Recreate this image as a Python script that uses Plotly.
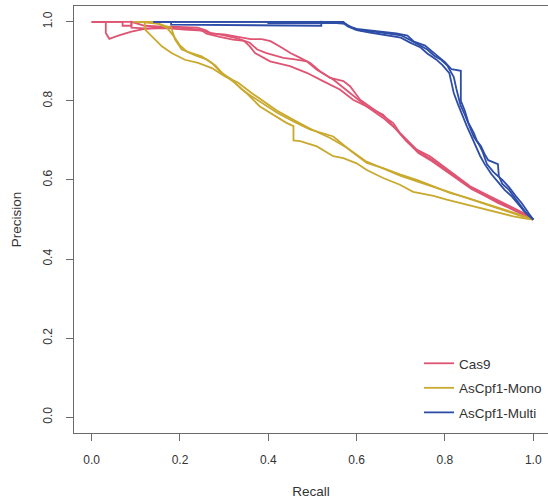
import plotly.graph_objects as go

# ---------------- data ----------------
series_names = ["Cas9", "AsCpf1-Mono", "AsCpf1-Multi"]
series_colors = ["#DF5473", "#C9A92E", "#2E4DA7"]

# Cas9 (three replicate PR curves)
cas9_1_recall = [0, 0.032, 0.032, 0.04, 0.06, 0.09, 0.12, 0.15, 0.18, 0.21, 0.24, 0.26, 0.27, 0.30, 0.33, 0.36,
                 0.385, 0.405, 0.43, 0.45, 0.47, 0.495, 0.517, 0.54, 0.57, 0.585, 0.608, 0.63, 0.66, 0.683, 0.698,
                 0.713, 0.736, 0.766, 0.796, 0.827, 0.857, 0.887, 0.917, 0.947, 0.977, 1.0]
cas9_1_precision = [1, 1, 0.972, 0.957, 0.965, 0.975, 0.982, 0.986, 0.988, 0.987, 0.985, 0.978, 0.97, 0.968, 0.962, 0.956,
                    0.956, 0.951, 0.935, 0.921, 0.91, 0.896, 0.875, 0.858, 0.85, 0.837, 0.803, 0.786, 0.761, 0.744, 0.719,
                    0.702, 0.677, 0.66, 0.635, 0.609, 0.584, 0.567, 0.55, 0.534, 0.517, 0.50]
cas9_2_recall = [0, 0.07, 0.07, 0.09, 0.09, 0.12, 0.16, 0.2, 0.24, 0.27, 0.30, 0.33, 0.358, 0.375, 0.396, 0.434, 0.46,
                 0.487, 0.51, 0.547, 0.585, 0.623, 0.66, 0.683, 0.713, 0.74, 0.77, 0.80, 0.83, 0.86, 0.89, 0.92, 0.95,
                 0.975, 1.0]
cas9_2_precision = [1, 1, 0.99, 0.99, 1.0, 0.99, 0.988, 0.985, 0.98, 0.972, 0.966, 0.958, 0.947, 0.93, 0.921, 0.909, 0.905,
                    0.90, 0.879, 0.854, 0.82, 0.786, 0.765, 0.736, 0.698, 0.672, 0.652, 0.628, 0.603, 0.58, 0.562, 0.545,
                    0.53, 0.515, 0.50]
cas9_3_recall = [0, 0.09, 0.09, 0.13, 0.17, 0.21, 0.25, 0.26, 0.29, 0.32, 0.345, 0.358, 0.37, 0.404, 0.449, 0.487, 0.524,
                 0.562, 0.592, 0.623, 0.66, 0.69, 0.713, 0.74, 0.77, 0.80, 0.83, 0.86, 0.89, 0.92, 0.95, 0.975, 1.0]
cas9_3_precision = [1, 1, 0.985, 0.983, 0.984, 0.98, 0.978, 0.97, 0.962, 0.955, 0.952, 0.938, 0.921, 0.90, 0.888, 0.871,
                    0.85, 0.829, 0.803, 0.786, 0.757, 0.728, 0.698, 0.668, 0.648, 0.625, 0.6, 0.577, 0.56, 0.542, 0.527,
                    0.513, 0.50]

# AsCpf1-Mono
mono_1_recall = [0.095, 0.12, 0.121, 0.136, 0.159, 0.181, 0.211, 0.241, 0.272, 0.302, 0.332, 0.362, 0.385, 0.42, 0.457,
                 0.494, 0.54, 0.577, 0.62, 0.66, 0.70, 0.74, 0.78, 0.82, 0.86, 0.90, 0.94, 0.97, 1.0]
mono_1_precision = [1, 1, 0.98, 0.963, 0.938, 0.921, 0.904, 0.896, 0.883, 0.862, 0.846, 0.82, 0.803, 0.775, 0.752,
                    0.73, 0.706, 0.682, 0.648, 0.628, 0.61, 0.595, 0.58, 0.566, 0.55, 0.535, 0.52, 0.51, 0.50]
mono_2_recall = [0.10, 0.14, 0.166, 0.18, 0.189, 0.204, 0.226, 0.249, 0.272, 0.294, 0.317, 0.34, 0.362, 0.385, 0.42,
                 0.457, 0.494, 0.547, 0.585, 0.623, 0.66, 0.698, 0.736, 0.774, 0.811, 0.85, 0.887, 0.925, 0.962, 1.0]
mono_2_precision = [1, 1, 0.99, 0.985, 0.955, 0.93, 0.921, 0.913, 0.896, 0.871, 0.854, 0.829, 0.812, 0.795, 0.77,
                    0.748, 0.728, 0.71, 0.675, 0.643, 0.63, 0.614, 0.60, 0.584, 0.567, 0.555, 0.542, 0.528, 0.515, 0.50]
mono_3_recall = [0.11, 0.15, 0.17, 0.185, 0.2, 0.215, 0.235, 0.26, 0.28, 0.30, 0.325, 0.35, 0.381, 0.41, 0.44, 0.457,
                 0.457, 0.472, 0.51, 0.547, 0.57, 0.60, 0.623, 0.66, 0.698, 0.728, 0.774, 0.804, 0.84, 0.879, 0.92,
                 0.955, 0.98, 1.0]
mono_3_precision = [1, 0.995, 0.985, 0.965, 0.94, 0.925, 0.915, 0.905, 0.89, 0.865, 0.845, 0.82, 0.786, 0.765, 0.745,
                    0.736, 0.70, 0.698, 0.685, 0.66, 0.655, 0.642, 0.625, 0.605, 0.588, 0.57, 0.56, 0.55, 0.54, 0.53,
                    0.518, 0.508, 0.503, 0.50]

# AsCpf1-Multi
multi_1_recall = [0.14, 0.57, 0.58, 0.60, 0.63, 0.66, 0.69, 0.715, 0.73, 0.755, 0.77, 0.785, 0.80, 0.815, 0.836, 0.836,
                  0.845, 0.853, 0.865, 0.872, 0.882, 0.89, 0.898, 0.92, 0.922, 0.93, 0.945, 0.958, 0.97, 0.985, 1.0]
multi_1_precision = [1, 1, 0.99, 0.982, 0.978, 0.974, 0.971, 0.965, 0.95, 0.94, 0.925, 0.912, 0.898, 0.88, 0.876, 0.80,
                     0.775, 0.745, 0.72, 0.70, 0.685, 0.665, 0.65, 0.64, 0.61, 0.59, 0.575, 0.555, 0.535, 0.515, 0.50]
multi_2_recall = [0.14, 0.18, 0.18, 0.52, 0.52, 0.575, 0.59, 0.61, 0.64, 0.67, 0.70, 0.72, 0.74, 0.76, 0.775, 0.79,
                  0.805, 0.82, 0.826, 0.835, 0.845, 0.855, 0.865, 0.877, 0.885, 0.895, 0.91, 0.93, 0.945, 0.96, 0.975,
                  0.99, 1.0]
multi_2_precision = [1, 1, 0.993, 0.99, 1, 0.995, 0.985, 0.978, 0.975, 0.97, 0.966, 0.955, 0.942, 0.93, 0.915, 0.905,
                     0.89, 0.86, 0.83, 0.79, 0.765, 0.735, 0.71, 0.69, 0.672, 0.64, 0.62, 0.60, 0.582, 0.56, 0.54,
                     0.515, 0.50]
multi_3_recall = [0.14, 0.40, 0.40, 0.57, 0.58, 0.60, 0.63, 0.66, 0.70, 0.72, 0.745, 0.76, 0.78, 0.795, 0.81, 0.815,
                  0.82, 0.83, 0.84, 0.85, 0.86, 0.87, 0.88, 0.89, 0.905, 0.92, 0.935, 0.95, 0.965, 0.98, 1.0]
multi_3_precision = [1, 1, 0.997, 0.997, 0.988, 0.979, 0.973, 0.968, 0.96, 0.948, 0.935, 0.92, 0.905, 0.89, 0.87,
                     0.845, 0.82, 0.79, 0.76, 0.735, 0.71, 0.685, 0.66, 0.64, 0.615, 0.595, 0.575, 0.56, 0.54, 0.52,
                     0.50]

x_tick_vals = [0, 0.2, 0.4, 0.6, 0.8, 1.0]
x_tick_text = ["0.0", "0.2", "0.4", "0.6", "0.8", "1.0"]
y_tick_vals = [0, 0.2, 0.4, 0.6, 0.8, 1.0]
y_tick_text = ["0.0", "0.2", "0.4", "0.6", "0.8", "1.0"]

groups = [
    (series_names[0], series_colors[0], [(cas9_1_recall, cas9_1_precision),
                                         (cas9_2_recall, cas9_2_precision),
                                         (cas9_3_recall, cas9_3_precision)]),
    (series_names[1], series_colors[1], [(mono_1_recall, mono_1_precision),
                                         (mono_2_recall, mono_2_precision),
                                         (mono_3_recall, mono_3_precision)]),
    (series_names[2], series_colors[2], [(multi_1_recall, multi_1_precision),
                                         (multi_2_recall, multi_2_precision),
                                         (multi_3_recall, multi_3_precision)]),
]

# ---------------- figure ----------------
fig = go.Figure()
for name, color, curves in groups:
    for i, (rx, py) in enumerate(curves):
        fig.add_trace(go.Scatter(
            x=rx, y=py, mode="lines", name=name, legendgroup=name,
            showlegend=(i == 0),
            line=dict(color=color, width=1.8),
        ))

W, H = 548, 501
ML, MR, MT, MB = 74, 0, 6, 68
px_per_unit_x = 441.6
x_lo = -0.04
x_hi = x_lo + (W - ML - MR) / px_per_unit_x

axis_color = "#6a6a6a"
text_color = "#333333"
font_family = "Liberation Sans, Arial, sans-serif"

fig.update_layout(
    width=W, height=H,
    margin=dict(l=ML, r=MR, t=MT, b=MB, pad=0),
    paper_bgcolor="white", plot_bgcolor="white",
    font=dict(family=font_family, color=text_color, size=12),
    showlegend=True,
    legend=dict(
        x=(419 - ML) / (W - ML - MR), y=(H - MB - 348) / (H - MT - MB),
        xanchor="left", yanchor="top",
        bgcolor="rgba(0,0,0,0)", borderwidth=0,
        font=dict(size=13.5, color=text_color, family=font_family),
        traceorder="grouped", tracegroupgap=4, itemwidth=30,
    ),
    xaxis=dict(
        range=[x_lo, x_hi], tickmode="array", tickvals=x_tick_vals, ticktext=x_tick_text,
        showgrid=False, zeroline=False,
        showline=True, linecolor=axis_color, linewidth=1, mirror=True,
        ticks="outside", ticklen=7, tickwidth=1, tickcolor=axis_color,
        tickfont=dict(size=12, color=text_color),
        ticklabelstandoff=9,
        title=dict(text="Recall", font=dict(size=13.5, color=text_color), standoff=20),
    ),
    yaxis=dict(
        range=[-0.04, 1.04], tickmode="array", tickvals=y_tick_vals, ticktext=y_tick_text,
        showgrid=False, zeroline=False,
        showline=True, linecolor=axis_color, linewidth=1, mirror=False,
        ticks="outside", ticklen=7, tickwidth=1, tickcolor=axis_color,
        tickangle=-90,
        tickfont=dict(size=12, color=text_color),
        ticklabelstandoff=9,
        title=dict(text="Precision", font=dict(size=13.5, color=text_color), standoff=16),
    ),
)

fig.write_html("out.html")
